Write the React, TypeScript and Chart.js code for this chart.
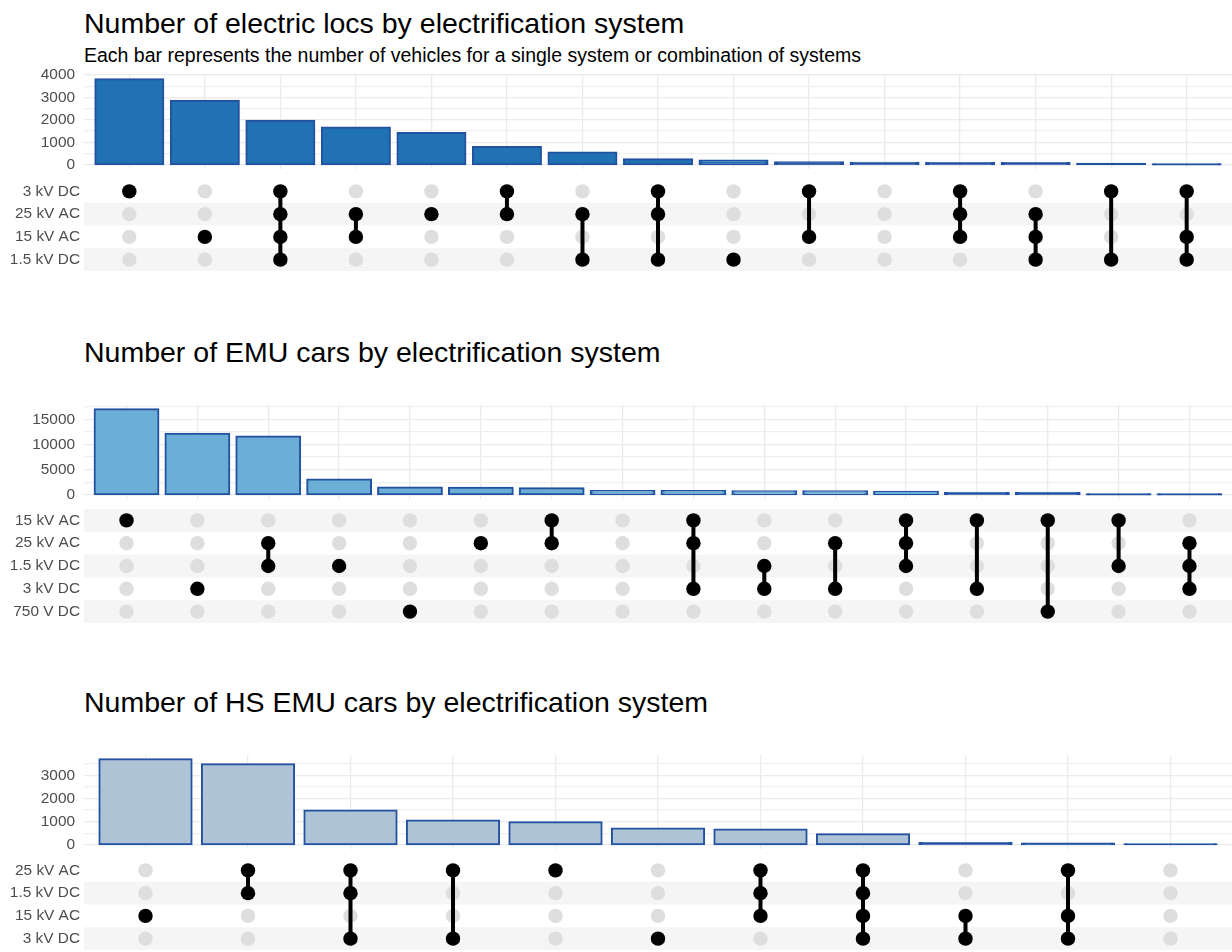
import React, { useEffect, useRef } from "react";
import { Chart, registerables } from "chart.js";
Chart.register(...registerables);

const FONT = '"Liberation Sans", Arial, Helvetica, sans-serif';
Chart.defaults.font.family = FONT;

// ---------------- Plot 1: electric locomotives ----------------
const locTitle = "Number of electric locs by electrification system";
const locSubtitle =
  "Each bar represents the number of vehicles for a single system or combination of systems";
const locSystems = ["3 kV DC", "25 kV AC", "15 kV AC", "1.5 kV DC"];
const locCounts = [3810, 2850, 1960, 1660, 1420, 785, 545, 245, 185, 105, 90, 75, 75, 45, 15];
const locCombos = [
  ["3 kV DC"],
  ["15 kV AC"],
  ["3 kV DC", "25 kV AC", "15 kV AC", "1.5 kV DC"],
  ["25 kV AC", "15 kV AC"],
  ["25 kV AC"],
  ["3 kV DC", "25 kV AC"],
  ["25 kV AC", "1.5 kV DC"],
  ["3 kV DC", "25 kV AC", "1.5 kV DC"],
  ["1.5 kV DC"],
  ["3 kV DC", "15 kV AC"],
  [],
  ["3 kV DC", "25 kV AC", "15 kV AC"],
  ["25 kV AC", "15 kV AC", "1.5 kV DC"],
  ["3 kV DC", "1.5 kV DC"],
  ["3 kV DC", "15 kV AC", "1.5 kV DC"],
];
const locYTicks = [0, 500, 1000, 1500, 2000, 2500, 3000, 3500, 4000];
const locYLabels = ["0", "", "1000", "", "2000", "", "3000", "", "4000"];

// ---------------- Plot 2: EMU cars ----------------
const emuTitle = "Number of EMU cars by electrification system";
const emuSystems = ["15 kV AC", "25 kV AC", "1.5 kV DC", "3 kV DC", "750 V DC"];
const emuCounts = [17000, 12150, 11600, 3050, 1425, 1400, 1290, 745, 740, 700, 690, 600, 400, 390, 70, 55];
const emuCombos = [
  ["15 kV AC"],
  ["3 kV DC"],
  ["25 kV AC", "1.5 kV DC"],
  ["1.5 kV DC"],
  ["750 V DC"],
  ["25 kV AC"],
  ["15 kV AC", "25 kV AC"],
  [],
  ["15 kV AC", "25 kV AC", "3 kV DC"],
  ["1.5 kV DC", "3 kV DC"],
  ["25 kV AC", "3 kV DC"],
  ["15 kV AC", "25 kV AC", "1.5 kV DC"],
  ["15 kV AC", "3 kV DC"],
  ["15 kV AC", "750 V DC"],
  ["15 kV AC", "1.5 kV DC"],
  ["25 kV AC", "1.5 kV DC", "3 kV DC"],
];
const emuYTicks = [0, 2500, 5000, 7500, 10000, 12500, 15000, 17500];
const emuYLabels = ["0", "", "5000", "", "10000", "", "15000", ""];

// ---------------- Plot 3: HS EMU cars ----------------
const hsTitle = "Number of HS EMU cars by electrification system";
const hsSystems = ["25 kV AC", "1.5 kV DC", "15 kV AC", "3 kV DC"];
const hsCounts = [3700, 3485, 1485, 1045, 970, 706, 662, 456, 80, 50, 20];
const hsCombos = [
  ["15 kV AC"],
  ["25 kV AC", "1.5 kV DC"],
  ["25 kV AC", "1.5 kV DC", "3 kV DC"],
  ["25 kV AC", "3 kV DC"],
  ["25 kV AC"],
  ["3 kV DC"],
  ["25 kV AC", "1.5 kV DC", "15 kV AC"],
  ["25 kV AC", "1.5 kV DC", "15 kV AC", "3 kV DC"],
  ["15 kV AC", "3 kV DC"],
  ["25 kV AC", "15 kV AC", "3 kV DC"],
  [],
];
const hsYTicks = [0, 500, 1000, 1500, 2000, 2500, 3000, 3500];
const hsYLabels = ["0", "", "1000", "", "2000", "", "3000", ""];

// ---------------- styling ----------------
const W = 1232;
const PANEL_LEFT = 84;
const PAD = 24;
const BAR_H = 94;
const BORDER = "#2351a1";
const GRID_MAJOR = "#ebebeb";
const GRID_MINOR = "#efefef";
const LABEL = "#4d4d4d";
const STRIPE = "#f5f5f5";
const DOT_GREY = "#dedede";
const AXIS_FONT = 15.4;
const TITLE_FONT = 28.5;
const SUBTITLE_FONT = 19.5;

type PlotProps = {
  title: string;
  subtitle?: string;
  systems: string[];
  counts: number[];
  combos: string[][];
  yTicks: number[];
  yLabels: string[];
  fill: string;
  titleTop: number;
  subtitleTop?: number;
  barTop: number;
  matrixTop: number;
  matrixH: number;
};

function UpsetPlot(p: PlotProps) {
  const barRef = useRef<HTMLCanvasElement>(null);
  const matRef = useRef<HTMLCanvasElement>(null);

  useEffect(() => {
    const n = p.counts.length;
    const maxV = Math.max(...p.counts);
    const xMin = 0.4;
    const xMax = n + 0.6;
    const colTicks = () => p.counts.map((_, i) => ({ value: i + 1 }));
    const fixWidth = (axis: any) => {
      axis.width = PANEL_LEFT;
    };

    const bar = new Chart(barRef.current as HTMLCanvasElement, {
      type: "bar",
      data: {
        datasets: [
          {
            data: p.counts.map((v, i) => ({ x: i + 1, y: v })),
            backgroundColor: (ctx: any) => {
              const y = ctx.chart.scales?.y;
              const v = ctx.parsed ? ctx.parsed.y : undefined;
              if (!y || v === undefined) return p.fill;
              const h = Math.abs(y.getPixelForValue(0) - y.getPixelForValue(v));
              return h < 2.5 ? BORDER : p.fill;
            },
            borderColor: BORDER,
            borderWidth: 2,
            borderSkipped: false,
            inflateAmount: 1,
            barPercentage: 0.9,
            categoryPercentage: 1,
          } as any,
        ],
      },
      options: {
        responsive: false,
        animation: false,
        devicePixelRatio: 1,
        events: [],
        layout: { padding: { top: PAD, bottom: PAD, left: 0, right: 0 }, autoPadding: false },
        plugins: { legend: { display: false }, tooltip: { enabled: false } },
        scales: {
          x: {
            type: "linear",
            min: xMin,
            max: xMax,
            offset: false,
            bounds: "data",
            afterBuildTicks: (a: any) => {
              a.ticks = colTicks();
            },
            ticks: { display: false },
            grid: { color: GRID_MAJOR, lineWidth: 1.3, drawTicks: false, offset: false },
            border: { display: false },
          },
          y: {
            type: "linear",
            min: -0.05 * maxV,
            max: 1.05 * maxV,
            bounds: "data",
            afterBuildTicks: (a: any) => {
              a.ticks = p.yTicks.map((v) => ({ value: v }));
            },
            afterFit: fixWidth,
            ticks: {
              callback: (_v: any, i: number) => p.yLabels[i],
              color: LABEL,
              font: { size: AXIS_FONT },
              padding: 9,
              autoSkip: false,
              maxRotation: 0,
            },
            grid: {
              color: (c: any) => (p.yLabels[c.index] ? GRID_MAJOR : GRID_MINOR),
              lineWidth: 1.2,
              drawTicks: false,
            },
            border: { display: false },
          },
        } as any,
      },
    });

    const rows = p.systems;
    const R = rows.length;
    const grey: { x: number; y: number }[] = [];
    const black: { x: number; y: number }[] = [];
    const links: { x: number; y: number }[][] = [];
    p.combos.forEach((combo, ci) => {
      const idx = combo.map((s) => rows.indexOf(s));
      rows.forEach((_, ri) => {
        (idx.includes(ri) ? black : grey).push({ x: ci + 1, y: ri });
      });
      if (idx.length > 1) {
        links.push([
          { x: ci + 1, y: Math.min(...idx) },
          { x: ci + 1, y: Math.max(...idx) },
        ]);
      }
    });

    const stripes = {
      id: "stripes",
      beforeDatasetsDraw(chart: any) {
        const { ctx, chartArea: a, scales } = chart;
        const y = scales.y;
        ctx.save();
        ctx.fillStyle = STRIPE;
        for (let r = 0; r < R; r++) {
          if ((R - 1 - r) % 2 === 0) {
            const y0 = y.getPixelForValue(r - 0.5);
            const y1 = y.getPixelForValue(r + 0.5);
            ctx.fillRect(a.left, Math.min(y0, y1), a.right - a.left, Math.abs(y1 - y0));
          }
        }
        ctx.restore();
      },
    };

    const mat = new Chart(matRef.current as HTMLCanvasElement, {
      type: "scatter",
      data: {
        datasets: [
          {
            data: black,
            backgroundColor: "#000000",
            borderWidth: 0,
            pointRadius: 7.2,
            order: 0,
          },
          ...links.map((l) => ({
            data: l,
            showLine: true,
            borderColor: "#000000",
            borderWidth: 4,
            pointRadius: 0,
            order: 1,
          })),
          {
            data: grey,
            backgroundColor: DOT_GREY,
            borderWidth: 0,
            pointRadius: 7.2,
            order: 2,
          },
        ] as any,
      },
      options: {
        responsive: false,
        animation: false,
        devicePixelRatio: 1,
        events: [],
        layout: { padding: { top: PAD, bottom: PAD, left: 0, right: 0 }, autoPadding: false },
        plugins: { legend: { display: false }, tooltip: { enabled: false } },
        scales: {
          x: { type: "linear", min: xMin, max: xMax, display: false },
          y: {
            type: "linear",
            min: -0.5,
            max: R - 0.5,
            reverse: true,
            bounds: "data",
            afterBuildTicks: (a: any) => {
              a.ticks = rows.map((_, i) => ({ value: i }));
            },
            afterFit: fixWidth,
            ticks: {
              callback: (v: any) => rows[Number(v)],
              color: LABEL,
              font: { size: AXIS_FONT },
              padding: 4,
              autoSkip: false,
              maxRotation: 0,
            },
            grid: { display: false, drawTicks: false },
            border: { display: false },
          },
        } as any,
      },
      plugins: [stripes],
    });

    return () => {
      bar.destroy();
      mat.destroy();
    };
  }, []);

  return (
    <>
      <div
        style={{
          position: "absolute",
          left: 84,
          top: p.titleTop,
          fontSize: TITLE_FONT,
          lineHeight: 1,
          color: "#000",
          whiteSpace: "nowrap",
        }}
      >
        {p.title}
      </div>
      {p.subtitle ? (
        <div
          style={{
            position: "absolute",
            left: 84,
            top: p.subtitleTop,
            fontSize: SUBTITLE_FONT,
            lineHeight: 1,
            color: "#000",
            whiteSpace: "nowrap",
          }}
        >
          {p.subtitle}
        </div>
      ) : null}
      <canvas
        ref={barRef}
        width={W}
        height={BAR_H + 2 * PAD}
        style={{ position: "absolute", left: 0, top: p.barTop - PAD, display: "block" }}
      />
      <canvas
        ref={matRef}
        width={W}
        height={p.matrixH + 2 * PAD}
        style={{ position: "absolute", left: 0, top: p.matrixTop - PAD, display: "block" }}
      />
    </>
  );
}

export default function App() {
  return (
    <div
      style={{
        position: "absolute",
        left: 0,
        top: 0,
        width: 1232,
        height: 952,
        background: "#ffffff",
        fontFamily: FONT,
        overflow: "hidden",
      }}
    >
      <UpsetPlot
        title={locTitle}
        subtitle={locSubtitle}
        systems={locSystems}
        counts={locCounts}
        combos={locCombos}
        yTicks={locYTicks}
        yLabels={locYLabels}
        fill="#2171b5"
        titleTop={9}
        subtitleTop={46}
        barTop={75}
        matrixTop={180}
        matrixH={91}
      />
      <UpsetPlot
        title={emuTitle}
        systems={emuSystems}
        counts={emuCounts}
        combos={emuCombos}
        yTicks={emuYTicks}
        yLabels={emuYLabels}
        fill="#6baed6"
        titleTop={338}
        barTop={405}
        matrixTop={509}
        matrixH={114}
      />
      <UpsetPlot
        title={hsTitle}
        systems={hsSystems}
        counts={hsCounts}
        combos={hsCombos}
        yTicks={hsYTicks}
        yLabels={hsYLabels}
        fill="#aec4d6"
        titleTop={688}
        barTop={755}
        matrixTop={859}
        matrixH={91}
      />
    </div>
  );
}
